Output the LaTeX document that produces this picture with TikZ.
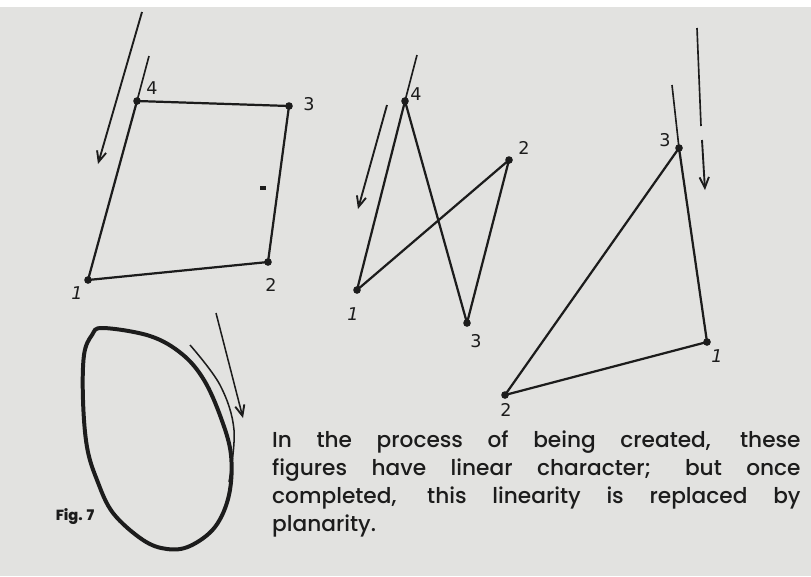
\documentclass[tikz,border=0pt]{standalone}
\usepackage{fontspec}
\newfontfamily\capfont{Poppins Medium}
\newfontfamily\handfont{DejaVu Sans}
\usetikzlibrary{arrows.meta}
\definecolor{paper}{HTML}{E2E2E0}
\definecolor{ink}{HTML}{1C1C1C}

\begin{document}
\begin{tikzpicture}[x=0.03cm,y=-0.03cm,
			>={Straight Barb[length=9pt,width=8pt,line width=1.6pt]},
			point/.style={circle,fill=ink,inner sep=0pt,minimum size=6.5pt},
			edge/.style={line width=1.9pt,ink,line join=round},
			lead/.style={line width=1.4pt,ink},
			pen/.style={line width=1.6pt,ink,->},
			num/.style={font=\handfont\fontsize{15}{15}\selectfont,ink,inner sep=0pt},
			caption/.style={font=\capfont\fontsize{18.5}{23.9}\selectfont,ink,
				text width=15.85cm,align=justify,inner sep=0pt},
			]
			% paper
			\fill[paper] (0,0) rectangle (811,576);
			\fill[white] (0,0) rectangle (811,7);
			\useasboundingbox (0,0) rectangle (811,576);
			
			% square: points 1..4
			\node[point] (a1) at (88,280) {};
			\node[point] (a2) at (268,262) {};
			\node[point] (a3) at (289,106) {};
			\node[point] (a4) at (137,101) {};
			\coordinate (a0) at (149,56);
			\draw[lead] (a0) -- (a4.center);
			\draw[edge] (a4.center) -- (a1.center) -- (a2.center) -- (a3.center) -- cycle;
			\fill[ink] (260,186) rectangle (266,190);
			\node[num] (na1) at (77,293) {\itshape 1};
			\node[num] (na2) at (271,285) {2};
			\node[num] (na3) at (309,104) {3};
			\node[num] (na4) at (152,88) {4};
			% direction
			\coordinate (s1) at (142,12);
			\coordinate (s2) at (98,164);
			\draw[pen] (s1) -- (s2);
			
			% zigzag: points 1..4
			\node[point] (b1) at (357,290) {};
			\node[point] (b2) at (509,160) {};
			\node[point] (b3) at (467,323) {};
			\node[point] (b4) at (405,101) {};
			\coordinate (b0) at (417,55);
			\draw[lead] (b0) -- (b4.center);
			\draw[edge] (b4.center) -- (b1.center) -- (b2.center) -- (b3.center) -- cycle;
			\node[num] (nb1) at (353,314) {\itshape 1};
			\node[num] (nb2) at (524,148) {2};
			\node[num] (nb3) at (476,341) {3};
			\node[num] (nb4) at (416,94) {4};
			% direction
			\coordinate (z1) at (387,105);
			\coordinate (z2) at (358,209);
			\draw[pen] (z1) -- (z2);
			
			% triangle: points 1..3
			\node[point] (c1) at (707,342) {};
			\node[point] (c2) at (505,395) {};
			\node[point] (c3) at (679,148) {};
			\coordinate (c0) at (672,85);
			\draw[lead] (c0) -- (c3.center);
			\draw[edge] (c3.center) -- (c1.center) -- (c2.center) -- cycle;
			\node[num] (nc1) at (717,356) {\itshape 1};
			\node[num] (nc2) at (506,410) {2};
			\node[num] (nc3) at (665,140) {3};
			% direction (with a small skip of the pen)
			\coordinate (t1) at (697,28);
			\coordinate (t2) at (701,126);
			\coordinate (t3) at (702,140);
			\coordinate (t4) at (705,190);
			\draw[lead] (t1) -- (t2);
			\draw[pen] (t3) -- (t4);
			
			% oval
			\draw[ink,line width=3.4pt] plot[smooth cycle,tension=0.6] coordinates {
				(103,328) (150,336) (182,354) (204,380) (221,418) (231,455)
				(229,495) (215,527) (190,546) (167,549) (143,540) (113,513)
				(97,480) (87,447) (83,400) (84,355) (92,335)};
			\draw[ink,line width=1.3pt] plot[smooth,tension=0.6] coordinates {
				(190,345) (220,385) (234,430) (229,482)};
			\node[font=\capfont\bfseries\fontsize{12.5}{12.5}\selectfont,ink,inner sep=0pt] (fig) at (75,517) {Fig. 7};
			% direction
			\coordinate (o1) at (216,313);
			\coordinate (o2) at (243,418);
			\draw[pen,line width=1.3pt] (o1) -- (o2);
			
			% caption
			\node[caption,anchor=north west] (txt) at (272,431) {In the process of being created, these\linebreak
				figures have linear character; but once\linebreak
				completed, this linearity is replaced by\linebreak
				planarity.};
		\end{tikzpicture}
\end{document}
